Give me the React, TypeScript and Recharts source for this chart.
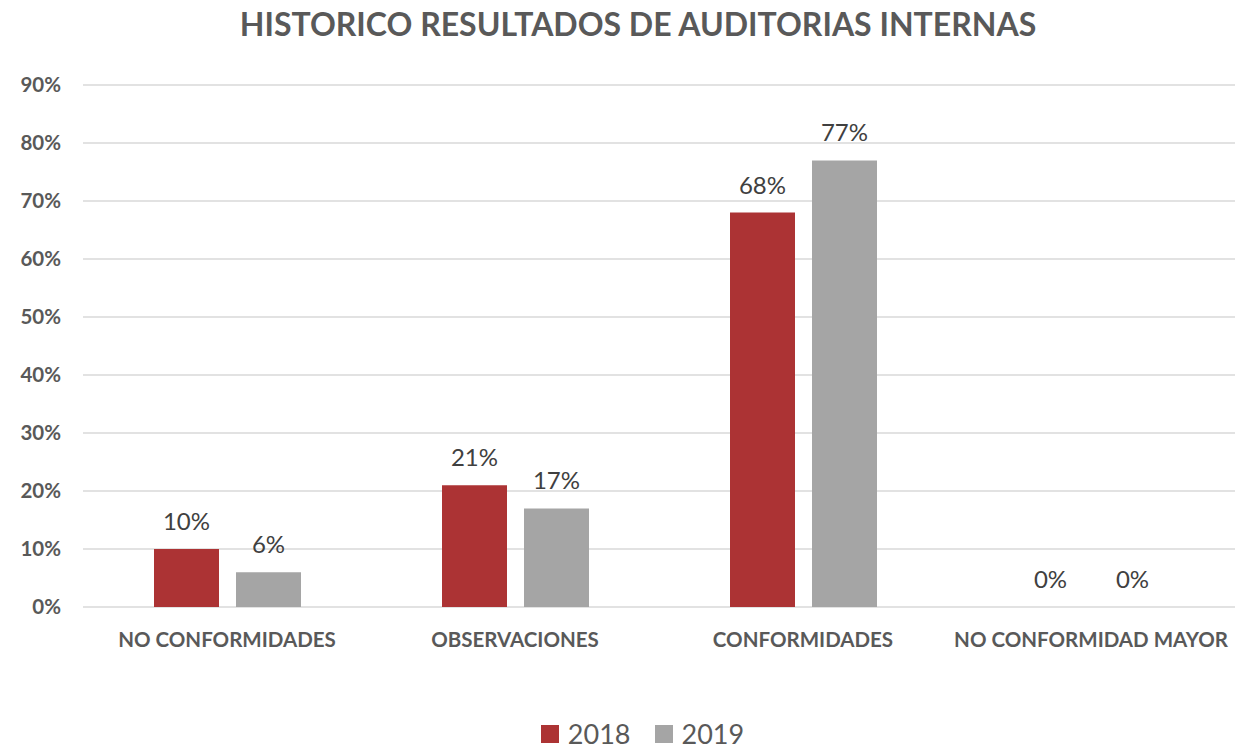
import React from "react";
import {
  BarChart,
  Bar,
  XAxis,
  YAxis,
  CartesianGrid,
  Legend,
  LabelList,
} from "recharts";

const categories = [
  "NO CONFORMIDADES",
  "OBSERVACIONES",
  "CONFORMIDADES",
  "NO CONFORMIDAD MAYOR",
];
const values2018 = [10, 21, 68, 0];
const values2019 = [6, 17, 77, 0];
const yTicks = [0, 10, 20, 30, 40, 50, 60, 70, 80, 90];
const seriesColors = { "2018": "#AC3334", "2019": "#A5A5A5" };

const data = categories.map((name, i) => ({
  name,
  "2018": values2018[i],
  "2019": values2019[i],
}));

const FONT = "Lato, sans-serif";
const TEXT = "#595959";

// legend drawn as two coloured squares with the year next to them
const renderLegend = () => (
  <div style={{ display: "flex", justifyContent: "center", paddingLeft: 50, paddingTop: 1, fontFamily: FONT }}>
    {Object.entries(seriesColors).map(([name, color], i) => (
      <div key={name} style={{ display: "flex", alignItems: "center", marginLeft: i ? 24 : 0 }}>
        <span style={{ width: 18, height: 18, background: color, display: "inline-block", marginRight: 9 }} />
        <span style={{ color: TEXT, fontSize: 27, lineHeight: "28px" }}>{name}</span>
      </div>
    ))}
  </div>
);

export default function App() {
  return (
    <div style={{ position: "absolute", left: 0, top: 0, width: 1235, height: 749, background: "#fff", fontFamily: FONT }}>
      <div
        style={{
          position: "absolute",
          top: 4,
          left: 0,
          width: 1276,
          textAlign: "center",
          fontSize: 32,
          fontWeight: 700,
          color: TEXT,
        }}
      >
        HISTORICO RESULTADOS DE AUDITORIAS INTERNAS
      </div>
      <BarChart
        width={1235}
        height={749}
        data={data}
        margin={{ top: 85, right: 0, left: 0, bottom: 0 }}
        barSize={65}
        barGap={17}
      >
        <CartesianGrid vertical={false} stroke="#D9D9D9" strokeWidth={1.5} />
        <XAxis
          dataKey="name"
          axisLine={false}
          tickLine={false}
          height={112}
          tickMargin={19}
          interval={0}
          tick={{ fill: TEXT, fontSize: 20.5, fontWeight: 700, fontFamily: FONT }}
        />
        <YAxis
          width={83}
          domain={[0, 90]}
          ticks={yTicks}
          axisLine={false}
          tickLine={false}
          tickMargin={16}
          tickFormatter={(v: number) => `${v}%`}
          tick={{ fill: TEXT, fontSize: 20.5, fontWeight: 700, fontFamily: FONT }}
        />
        <Legend verticalAlign="bottom" height={30} content={renderLegend} />
        <Bar dataKey="2018" fill={seriesColors["2018"]} minPointSize={0.01} isAnimationActive={false}>
          <LabelList
            dataKey="2018"
            position="top"
            offset={19}
            formatter={(v: number) => `${v}%`}
            style={{ fill: "#404040", fontSize: 24, fontFamily: FONT }}
          />
        </Bar>
        <Bar dataKey="2019" fill={seriesColors["2019"]} minPointSize={0.01} isAnimationActive={false}>
          <LabelList
            dataKey="2019"
            position="top"
            offset={19}
            formatter={(v: number) => `${v}%`}
            style={{ fill: "#404040", fontSize: 24, fontFamily: FONT }}
          />
        </Bar>
      </BarChart>
    </div>
  );
}
